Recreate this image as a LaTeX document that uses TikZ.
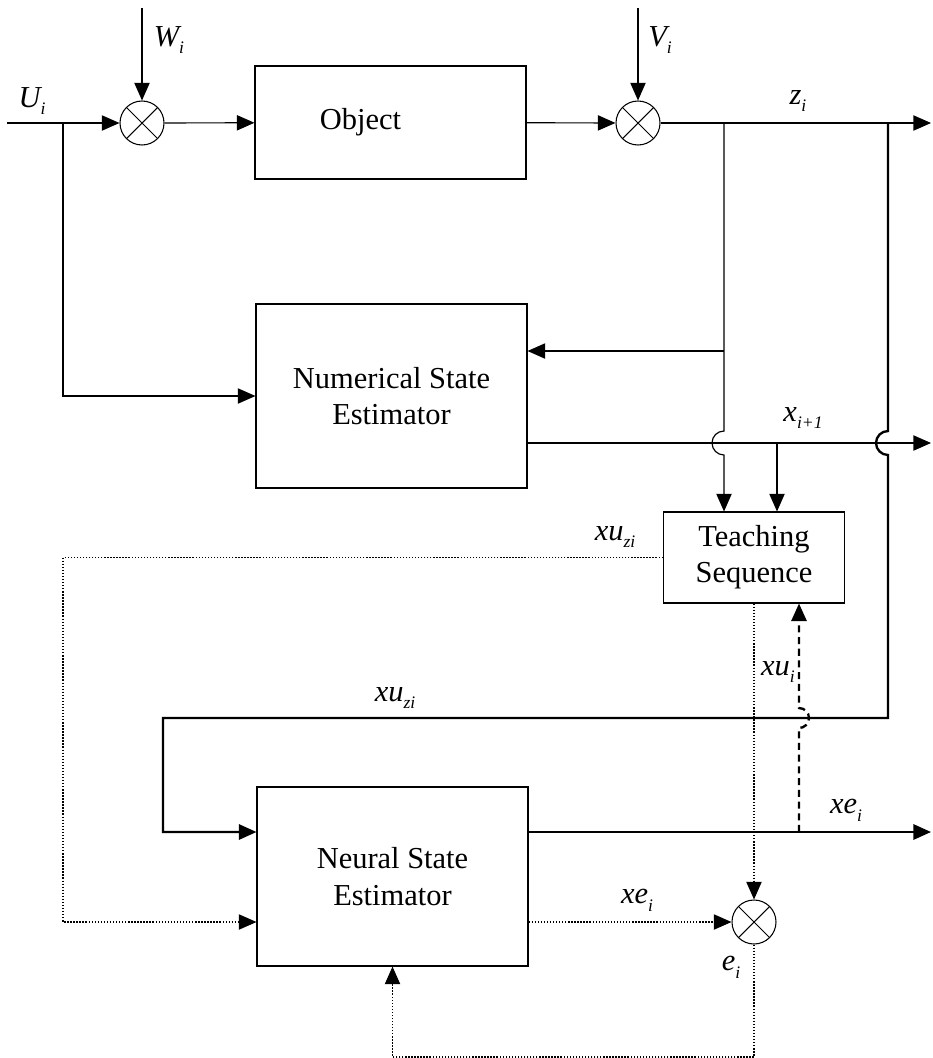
\documentclass[tikz,border=0pt]{standalone}
\usepackage{fontspec}
\setmainfont{Liberation Serif}
\usetikzlibrary{arrows.meta}

\newcommand{\sg}[2]{#1\raisebox{-0.55ex}{\fontsize{15}{15}\selectfont #2}}

\tikzset{
    block/.style={draw, line width=0.9pt, align=center, inner sep=0pt, font=\fontsize{26}{31}\selectfont},
    sumnode/.style={draw, circle, line width=0.9pt, minimum size=1.32cm, inner sep=0pt,
        path picture={\draw[line width=0.9pt] (path picture bounding box.north west) -- (path picture bounding box.south east)
            (path picture bounding box.north east) -- (path picture bounding box.south west);}},
    lab/.style={font=\fontsize{26}{30}\selectfont\itshape},
    sig/.style={line width=1pt, -{Triangle[length=15pt,width=13pt]}},
    thk/.style={line width=2pt},
    dsh/.style={line width=2pt, dash pattern=on 6pt off 4pt},
    dots/.style={dash pattern=on 1.2pt off 1.4pt}
}

\begin{document}
\begin{tikzpicture}[x=0.03cm,y=-0.03cm]
                \useasboundingbox (0,0) rectangle (933,1058);

                \node[block, minimum width=8.13cm, minimum height=3.39cm] (obj) at (390.5,122.5) {\hspace*{-1.8cm}Object};
                \node[block, minimum width=8.13cm, minimum height=5.52cm] (nse) at (391.5,396) {Numerical State\\Estimator};
                \node[block, minimum width=5.43cm, minimum height=2.73cm] (teach) at (754,557.5) {Teaching\\Sequence};
                \node[block, minimum width=8.13cm, minimum height=5.37cm] (nn) at (392.5,876.5) {Neural State\\Estimator};

                \node[sumnode] (s1) at (142,123) {};
                \node[sumnode] (s2) at (638,123) {};
                \node[sumnode] (s3) at (754,922) {};

                \coordinate (uin) at (7,123);
                \coordinate (ub) at (63,123);
                \coordinate (win) at (142,8);
                \coordinate (vin) at (638,8);
                \coordinate (zb) at (724,123);
                \coordinate (zn) at (724,351);
                \coordinate (hopa) at (724,431);
                \coordinate (zc) at (888,123);
                \coordinate (hopb) at (888,431);
                \coordinate (zout) at (931,123);
                \coordinate (xb) at (777,443);
                \coordinate (xout) at (931,443);
                \coordinate (fa) at (888,718);
                \coordinate (fb) at (163,718);
                \coordinate (fc) at (163,832);
                \coordinate (eb) at (799,832);
                \coordinate (hopc) at (799,728);
                \coordinate (eout) at (931,832);
                \coordinate (da) at (63,557.5);
                \coordinate (db) at (63,922);
                \coordinate (dc) at (754,1057);

                % upper loop
                \draw[sig] (uin) -- (s1);
                \draw[sig] (win) -- (s1);
                \draw[sig] (s1) -- (obj);
                \draw[sig] (obj) -- (s2);
                \draw[sig] (vin) -- (s2);
                \draw[sig] (s2) -- (zout);
                \draw[sig] (ub) |- (nse);
                \draw[sig] (zn) -- (nse.east |- zn);
                \draw[sig] (nse.east |- xout) -- (xout);
                \draw[sig] (zb) -- (hopa) arc[start angle=90, end angle=270, radius=0.36cm] -- (zb |- teach.north);
                \draw[sig] (xb) -- (xb |- teach.north);

                % lower loop
                \draw[sig, thk] (zc) -- (hopb) arc[start angle=90, end angle=270, radius=0.36cm] -- (fa) -- (fb) -- (fc) -- (nn.west |- fc);
                \draw[sig, thk] (nn.east |- eout) -- (eout);
                \draw[sig, dsh] (eb) -- (hopc) arc[start angle=-90, end angle=90, radius=0.3cm] -- (eb |- teach.south);
                \draw[sig, dots] (teach.west) -- (da) -- (db) -- (nn.west |- db);
                \draw[sig, dots] (teach.south) -- (s3);
                \draw[sig, dots] (nn.east |- s3) -- (s3);
                \draw[sig, dots] (s3) -- (dc) -| (nn.south);

                \node[lab] (lu) at (32,101) {\sg{U}{i}};
                \node[lab] (lw) at (169,40) {\sg{W}{i}};
                \node[lab] (lv) at (660,40) {\sg{V}{i}};
                \node[lab] (lz) at (798,101) {\sg{z}{i}};
                \node[lab] (lx) at (803,418) {\sg{x}{i+1}};
                \node[lab] (lxua) at (615,537) {\sg{xu}{zi}};
                \node[lab] (lxub) at (395,698) {\sg{xu}{zi}};
                \node[lab] (lxui) at (778,672) {\sg{xu}{i}};
                \node[lab] (lxea) at (846,810) {\sg{xe}{i}};
                \node[lab] (lxeb) at (637,900) {\sg{xe}{i}};
                \node[lab] (le) at (731,967) {\sg{e}{i}};
\end{tikzpicture}
\end{document}
